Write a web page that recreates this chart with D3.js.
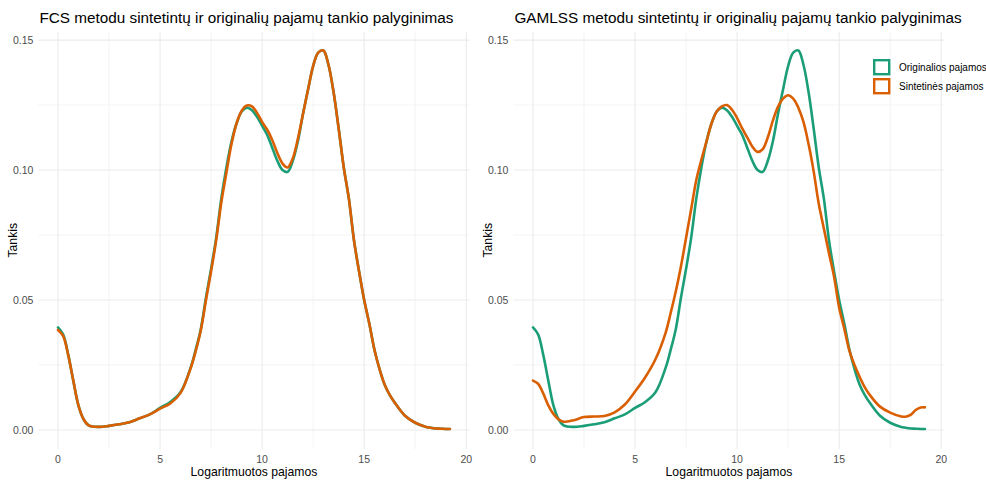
<!DOCTYPE html>
<html>
<head>
<meta charset="utf-8">
<script src="https://cdnjs.cloudflare.com/ajax/libs/d3/7.8.5/d3.min.js"></script>
<style>
  body { margin: 0; background: #fff; }
  svg { font-family: "Liberation Sans", Arial, sans-serif; }
  .tick-label { fill: #4d4d4d; font-size: 10.5px; }
  .axis-title { fill: #000; font-size: 12.2px; }
  .plot-title { fill: #000; font-size: 15.3px; }
  .legend-text { fill: #000; font-size: 10px; }
</style>
</head>
<body>
<div id="chart"></div>
<script>
// log income grid where the densities were read
var xs = [0, 0.25, 0.5, 0.75, 1, 1.25, 1.5, 2, 2.5, 3, 3.5, 4, 4.5, 5, 5.5, 6, 6.5, 6.75, 7, 7.25, 7.5, 7.75,
          8, 8.25, 8.5, 8.75, 9, 9.25, 9.5, 9.75, 10, 10.25, 10.5, 10.75, 11, 11.25, 11.5, 11.75,
          12, 12.25, 12.5, 12.75, 13, 13.25, 13.5, 13.75, 14, 14.25, 14.5, 14.75, 15, 15.25, 15.5,
          15.75, 16, 16.25, 16.5, 17, 17.5, 18, 18.25, 18.5, 18.75, 19, 19.2];

// original income density
var original = [0.0395, 0.0368, 0.029, 0.019, 0.0095, 0.0042, 0.0018, 0.0012, 0.0016, 0.0022, 0.003, 0.0045, 0.006,
                0.0085, 0.0108, 0.0145, 0.024, 0.031, 0.039, 0.051, 0.062, 0.074,
                0.089, 0.101, 0.111, 0.118, 0.1225, 0.124, 0.123, 0.1205, 0.117, 0.1135, 0.1085, 0.1035, 0.1, 0.0993, 0.1035, 0.111,
                0.1215, 0.131, 0.14, 0.1452, 0.146, 0.1405, 0.13, 0.116, 0.101, 0.089, 0.073, 0.061, 0.05, 0.041, 0.031,
                0.0235, 0.0175, 0.0135, 0.0105, 0.0055, 0.0028, 0.0013, 0.0009, 0.0006, 0.0005, 0.0004, 0.0004];

// FCS synthetic density
var fcsSynth = [0.0385, 0.0362, 0.0288, 0.019, 0.0095, 0.0042, 0.0018, 0.0012, 0.0016, 0.0022, 0.003, 0.0045, 0.006,
                0.0082, 0.0102, 0.0142, 0.0238, 0.0305, 0.0385, 0.05, 0.061, 0.073,
                0.0875, 0.099, 0.11, 0.118, 0.1228, 0.1248, 0.1245, 0.122, 0.1185, 0.1155, 0.1115, 0.1065, 0.1025, 0.101, 0.1045, 0.112,
                0.1215, 0.131, 0.14, 0.1452, 0.146, 0.1405, 0.13, 0.116, 0.101, 0.089, 0.073, 0.061, 0.05, 0.041, 0.031,
                0.0235, 0.0175, 0.0135, 0.0105, 0.0055, 0.0028, 0.0013, 0.0009, 0.0006, 0.0005, 0.0004, 0.0004];

// GAMLSS synthetic density
var gamlssSynth = [0.019, 0.0178, 0.0141, 0.0095, 0.0062, 0.0041, 0.0032, 0.0038, 0.005, 0.0052, 0.0054, 0.0068, 0.0098,
                   0.0148, 0.0203, 0.0272, 0.0375, 0.0452, 0.0535, 0.063, 0.074, 0.085,
                   0.0962, 0.104, 0.111, 0.118, 0.1225, 0.1245, 0.125, 0.1232, 0.12, 0.116, 0.1125, 0.109, 0.107, 0.108, 0.1125, 0.119,
                   0.1243, 0.1275, 0.1288, 0.1275, 0.124, 0.1185, 0.11, 0.0995, 0.087, 0.0775, 0.068, 0.059, 0.047, 0.039, 0.0305,
                   0.025, 0.0205, 0.0165, 0.0135, 0.009, 0.0067, 0.0053, 0.0051, 0.0058, 0.0077, 0.0087, 0.0087];

var xTicks = [0, 5, 10, 15, 20];
var yTicks = [0, 0.05, 0.10, 0.15];
var seriesNames = ["Originalios pajamos", "Sintetinės pajamos"];
var colors = ["#1b9e77", "#d95f02"];
var titles = ["FCS metodu sintetintų ir originalių pajamų tankio palyginimas",
              "GAMLSS metodu sintetintų ir originalių pajamų tankio palyginimas"];

var width = 986, height = 480;
var svg = d3.select("#chart").append("svg")
    .attr("width", width)
    .attr("height", height);

function drawPanel(left, right, title, synth) {
    // ggplot-style 5% expansion around data range
    var x = d3.scaleLinear().domain([-0.96, 20.16]).range([left, right]);
    var y = d3.scaleLinear().domain([-0.0073, 0.1533]).range([449, 31.5]);
    var g = svg.append("g");

    // minor grid
    var minorX = d3.range(-2.5, 22.5, 5).filter(function(v){ return v > -0.96 && v < 20.16; });
    var minorY = [0.025, 0.075, 0.125];
    g.selectAll(".minx").data(minorX).enter().append("line")
        .attr("x1", d => x(d)).attr("x2", d => x(d))
        .attr("y1", y.range()[0]).attr("y2", y.range()[1])
        .attr("stroke", "#f0f0f0").attr("stroke-width", 0.8);
    g.selectAll(".miny").data(minorY).enter().append("line")
        .attr("x1", left).attr("x2", right)
        .attr("y1", d => y(d)).attr("y2", d => y(d))
        .attr("stroke", "#f0f0f0").attr("stroke-width", 0.8);

    // major grid
    g.selectAll(".majx").data(xTicks).enter().append("line")
        .attr("x1", d => x(d)).attr("x2", d => x(d))
        .attr("y1", y.range()[0]).attr("y2", y.range()[1])
        .attr("stroke", "#ebebeb").attr("stroke-width", 1.1);
    g.selectAll(".majy").data(yTicks).enter().append("line")
        .attr("x1", left).attr("x2", right)
        .attr("y1", d => y(d)).attr("y2", d => y(d))
        .attr("stroke", "#ebebeb").attr("stroke-width", 1.1);

    // tick labels
    g.selectAll(".xt").data(xTicks).enter().append("text")
        .attr("class", "tick-label")
        .attr("x", d => x(d)).attr("y", 463)
        .attr("text-anchor", "middle")
        .text(d => d);
    g.selectAll(".yt").data(yTicks).enter().append("text")
        .attr("class", "tick-label")
        .attr("x", left - 5).attr("y", d => y(d) + 4)
        .attr("text-anchor", "end")
        .text(d => d3.format(".2f")(d));

    // axis titles
    g.append("text").attr("class", "axis-title")
        .attr("x", (left + right) / 2).attr("y", 476)
        .attr("text-anchor", "middle")
        .text("Logaritmuotos pajamos");
    g.append("text").attr("class", "axis-title")
        .attr("transform", "translate(" + (left - 21) + "," + ((449 + 31.5) / 2) + ") rotate(-90)")
        .attr("text-anchor", "middle")
        .text("Tankis");

    g.append("text").attr("class", "plot-title")
        .attr("x", left + 1).attr("y", 23)
        .text(title);

    var line = d3.line()
        .x(function(d, i){ return x(xs[i]); })
        .y(function(d){ return y(d); })
        .curve(d3.curveCatmullRom.alpha(0.5));

    [original, synth].forEach(function(s, i){
        g.append("path")
            .attr("d", line(s))
            .attr("fill", "none")
            .attr("stroke", colors[i])
            .attr("stroke-width", 2.6)
            .attr("stroke-linejoin", "round")
            .attr("stroke-linecap", "round");
    });
}

drawPanel(38.4, 469.5, titles[0], fcsSynth);
drawPanel(513.4, 944.5, titles[1], gamlssSynth);

// legend
var legend = svg.append("g").attr("transform", "translate(873,59)");
seriesNames.forEach(function(name, i){
    legend.append("rect")
        .attr("x", 1.2).attr("y", i * 19 + 1.2)
        .attr("width", 15).attr("height", 14)
        .attr("fill", "#fff")
        .attr("stroke", colors[i])
        .attr("stroke-width", 2.4);
    legend.append("text").attr("class", "legend-text")
        .attr("x", 26).attr("y", i * 19 + 11.5)
        .text(name);
});
</script>
</body>
</html>
